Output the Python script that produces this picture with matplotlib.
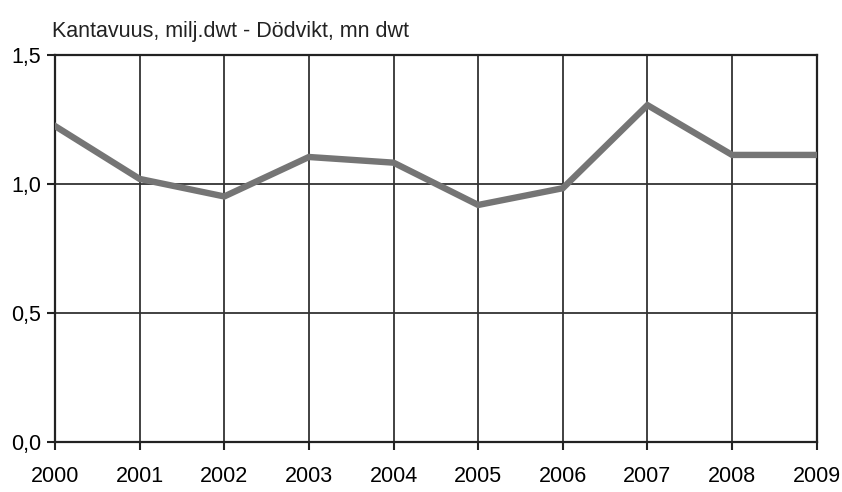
import matplotlib
matplotlib.use("Agg")
import matplotlib.pyplot as plt
from matplotlib import font_manager

# data
years = [2000, 2001, 2002, 2003, 2004, 2005, 2006, 2007, 2008, 2009]
dwt = [1.225, 1.02, 0.952, 1.105, 1.083, 0.919, 0.984, 1.306, 1.113, 1.113]
yticks = [0.0, 0.5, 1.0, 1.5]
ytick_labels = ["0,0", "0,5", "1,0", "1,5"]
title = "Kantavuus, milj.dwt - Dödvikt, mn dwt"

names = {f.name for f in font_manager.fontManager.ttflist}
fam = "Liberation Sans Narrow" if "Liberation Sans Narrow" in names else "Liberation Sans"
plt.rcParams["font.family"] = [fam, "DejaVu Sans"]

fig = plt.figure(figsize=(8.42, 4.92), dpi=100)
ax = fig.add_axes([0.0653, 0.1016, 0.9047, 0.7864])

ax.plot(years, dwt, color="#757575", lw=4.6, solid_joinstyle="miter", zorder=3)

ax.set_xlim(years[0], years[-1])
ax.set_ylim(0, 1.5)
ax.set_xticks(years)
ax.set_xticklabels([str(y) for y in years], fontsize=15.5)
ax.set_yticks(yticks)
ax.set_yticklabels(ytick_labels, fontsize=15.5)
ax.grid(True, color="#333333", lw=1.3)
for s in ax.spines.values():
    s.set_color("#222222")
    s.set_linewidth(1.6)
ax.tick_params(axis="both", direction="out", length=6, width=1.5, color="#222222")
ax.tick_params(axis="x", pad=11)
ax.tick_params(axis="y", pad=4)

fig.text(0.062, 0.925, title, fontsize=15.5, color="#222222")

plt.savefig("out.png", dpi=100)
